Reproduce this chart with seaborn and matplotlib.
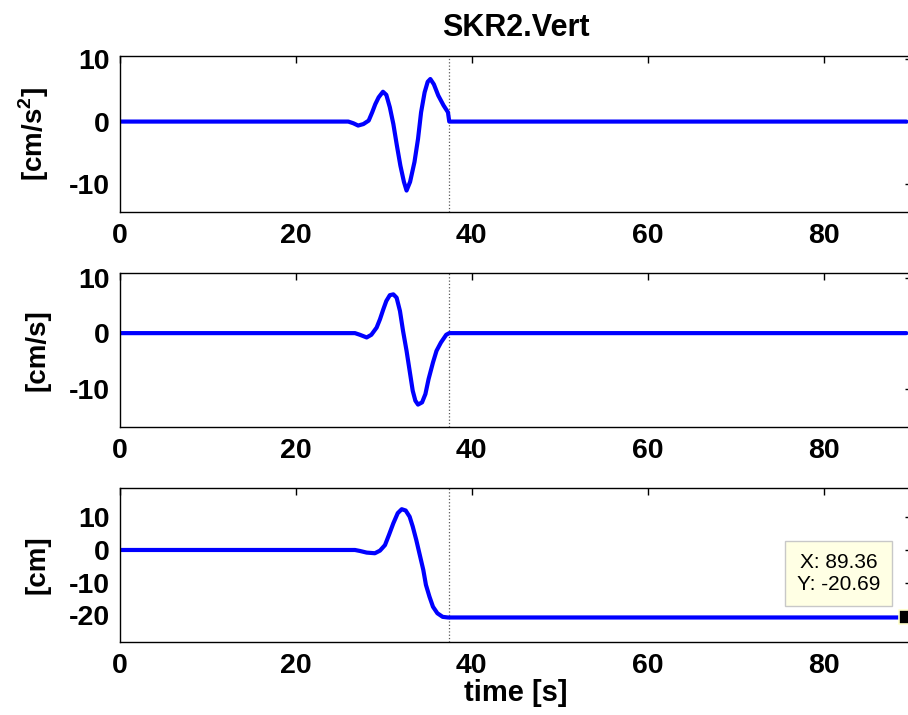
import matplotlib
matplotlib.use("Agg")
import matplotlib.pyplot as plt
import seaborn as sns
import pandas as pd

# ---- data ----
t_acc = [0, 25.98, 26.55, 27.1, 27.7, 28.3, 28.7, 29.05, 29.43, 29.92, 30.3, 30.7,
         31.1, 31.5, 31.9, 32.3, 32.6, 33.0, 33.5, 33.9, 34.25, 34.65, 35.0, 35.3,
         35.7, 36.2, 36.8, 37.3, 37.45, 89.36]
acc = [0, 0, -0.27, -0.64, -0.4, 0.16, 1.5, 2.8, 3.9, 4.8, 4.3, 2.3,
       -0.4, -3.85, -7.1, -9.7, -11.1, -9.7, -6.5, -2.8, 1.5, 4.7, 6.4, 6.85,
       6.0, 4.2, 2.6, 1.5, 0.0, 0.0]

t_vel = [0, 26.74, 27.3, 28.07, 28.6, 29.2, 29.58, 29.96, 30.3, 30.7, 31.1, 31.47,
         31.85, 32.2, 32.6, 32.95, 33.3, 33.6, 33.9, 34.36, 34.74, 35.1, 35.6, 36.0,
         36.5, 37.1, 37.45, 89.36]
vel = [0, 0, -0.3, -0.78, -0.3, 1.0, 2.5, 4.3, 5.8, 6.85, 7.0, 6.4,
       4.0, 0.4, -3.2, -6.8, -10.4, -12.2, -12.9, -12.5, -11.0, -8.3, -5.3, -3.2,
       -1.7, -0.3, 0.0, 0.0]

t_disp = [0, 26.74, 27.3, 28.07, 29.0, 29.58, 30.15, 30.6, 31.1, 31.6, 32.05, 32.5,
          32.95, 33.3, 33.7, 34.1, 34.5, 34.8, 35.2, 35.6, 36.1, 36.7, 37.3, 89.36]
disp = [0, 0, -0.3, -0.8, -1.0, -0.2, 1.5, 4.6, 8.2, 11.3, 12.5, 12.1,
        10.2, 7.2, 3.1, -1.5, -6.1, -10.7, -14.3, -17.4, -19.4, -20.5, -20.69, -20.69]

t_mark = 37.45
tip_x, tip_y = 89.36, -20.69

title = "SKR2.Vert"
ylabels = ["[cm/s$^\\mathbf{2}$]", "[cm/s]", "[cm]"]
xlabel = "time [s]"
xticks = [0, 20, 40, 60, 80]
yticks = [[-10, 0, 10], [-10, 0, 10], [-20, -10, 0, 10]]
ylims = [(-14.6, 10.6), (-17.0, 10.8), (-28.3, 19.0)]
xlim = (0, 90)

# ---- style ----
sns.set_style("white")
plt.rcParams["font.family"] = ["Liberation Sans", "DejaVu Sans"]
plt.rcParams["mathtext.fontset"] = "custom"
plt.rcParams["mathtext.bf"] = "Liberation Sans:bold"
plt.rcParams["mathtext.rm"] = "Liberation Sans:bold"
plt.rcParams["axes.unicode_minus"] = False
plt.rcParams["text.color"] = "black"
plt.rcParams["axes.labelcolor"] = "black"

fig = plt.figure(figsize=(9.08, 7.15), dpi=100)
left, width = 119.5 / 908, 792.5 / 908
rects = [(55.7, 212.3), (273.3, 427.3), (488.0, 642.3)]
axes = []
for top, bot in rects:
    axes.append(fig.add_axes([left, 1 - bot / 715, width, (bot - top) / 715]))

series = [(t_acc, acc), (t_vel, vel), (t_disp, disp)]
for i, (ax, (tx, vy)) in enumerate(zip(axes, series)):
    df = pd.DataFrame({"t": tx, "v": vy})
    sns.lineplot(data=df, x="t", y="v", ax=ax, color="#0000ff", lw=3.0,
                 sort=False, estimator=None)
    ax.axvline(t_mark, color="0.35", ls=":", lw=0.9, zorder=1)
    ax.set_xlim(*xlim)
    ax.set_ylim(*ylims[i])
    ax.set_xticks(xticks)
    ax.set_yticks(yticks[i])
    ax.tick_params(axis="both", direction="in", length=5, width=1,
                   top=True, right=True, labelsize=20.5, colors="black")
    ax.tick_params(axis="x", pad=8)
    ax.tick_params(axis="y", pad=7)
    for lab in ax.get_xticklabels() + ax.get_yticklabels():
        lab.set_fontweight("bold")
    for sp in ax.spines.values():
        sp.set_color("black")
        sp.set_linewidth(1.0)
    ax.set_xlabel("")
    ax.set_ylabel(ylabels[i], fontsize=20, fontweight="bold")
    ax.yaxis.set_label_coords(-0.087, 0.5)

axes[0].set_title(title, fontsize=22, fontweight="bold", pad=14, color="black")
axes[2].set_xlabel(xlabel, fontsize=21, fontweight="bold", labelpad=0)

# data tip
ax = axes[2]
sns.scatterplot(x=[tip_x], y=[tip_y], ax=ax, marker="s", s=90, color="black",
                edgecolor="#ffffcc", linewidth=1.2, zorder=6, clip_on=False)
ax.annotate(f"X: {tip_x:.2f}\nY: {tip_y:.2f}", xy=(tip_x, tip_y),
            xytext=(-68, 44), textcoords="offset pixels",
            ha="center", va="center", fontsize=15, linespacing=1.25, color="black",
            bbox=dict(boxstyle="square,pad=0.55", fc="#ffffe4", ec="#c8c8c8", lw=1),
            zorder=7)

fig.savefig("out.png", dpi=100)
